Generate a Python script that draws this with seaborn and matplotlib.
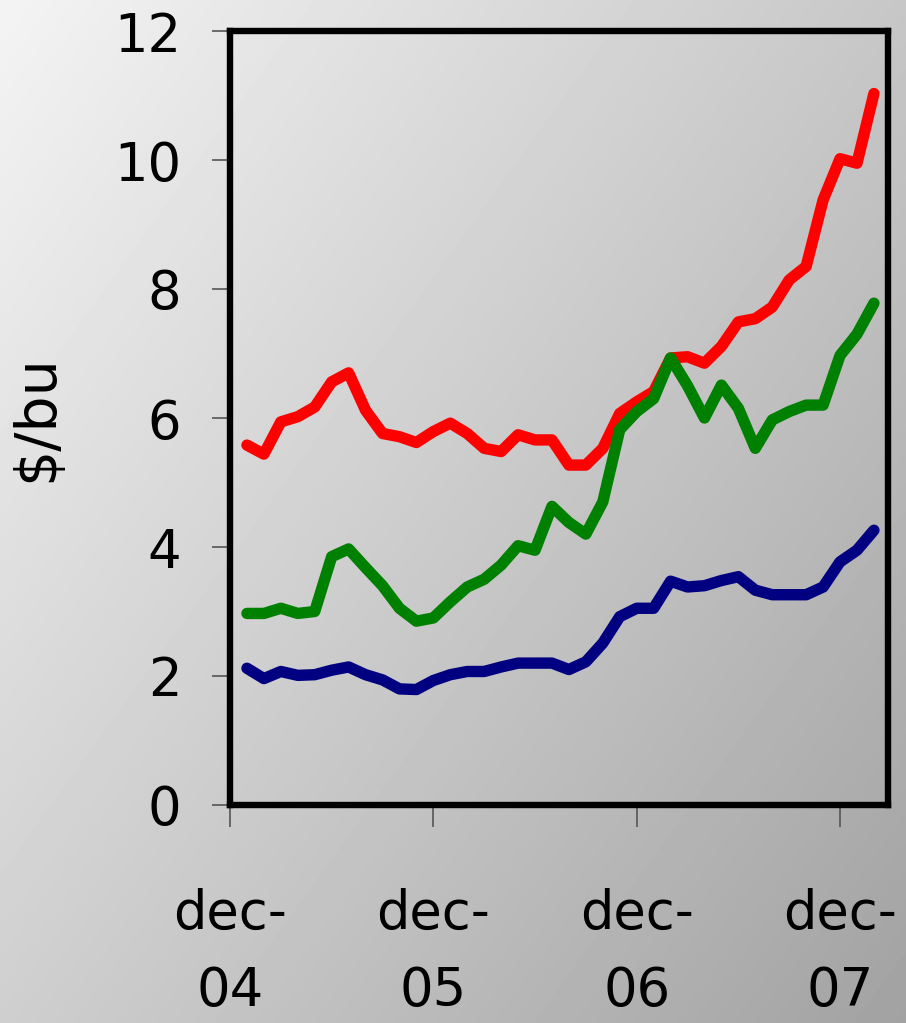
import numpy as np
import pandas as pd
import matplotlib
matplotlib.use("Agg")
import matplotlib.pyplot as plt
import seaborn as sns

# months after dec-04 (1 = jan-05 ... 38 = feb-08)
months = list(range(1, 39))
wheat = [5.58, 5.44, 5.94, 6.02, 6.17, 6.56, 6.70, 6.12, 5.76, 5.71, 5.62, 5.79,
         5.92, 5.76, 5.53, 5.48, 5.74, 5.66, 5.66, 5.27, 5.27, 5.53, 6.07, 6.25,
         6.41, 6.93, 6.95, 6.85, 7.11, 7.49, 7.54, 7.72, 8.14, 8.35, 9.38, 10.02, 9.95, 11.03]
soy = [2.97, 2.97, 3.05, 2.97, 3.00, 3.85, 3.97, 3.68, 3.40, 3.05, 2.85, 2.90,
       3.15, 3.38, 3.50, 3.72, 4.02, 3.95, 4.63, 4.38, 4.20, 4.70, 5.82, 6.10,
       6.30, 6.93, 6.50, 6.00, 6.51, 6.15, 5.53, 5.97, 6.10, 6.20, 6.20, 6.97, 7.30, 7.78]
corn = [2.12, 1.96, 2.07, 2.01, 2.02, 2.09, 2.14, 2.02, 1.94, 1.80, 1.79, 1.93,
        2.02, 2.07, 2.07, 2.14, 2.20, 2.20, 2.20, 2.10, 2.22, 2.51, 2.92, 3.05,
        3.05, 3.47, 3.38, 3.40, 3.48, 3.54, 3.33, 3.26, 3.26, 3.26, 3.38, 3.77, 3.95, 4.26]
series_names = ["red", "green", "blue"]
series_colors = ["#ff0000", "#008000", "#000080"]
x_tick_pos = [0, 12, 24, 36]
x_tick_labels = ["dec-\n04", "dec-\n05", "dec-\n06", "dec-\n07"]
y_ticks = [0, 2, 4, 6, 8, 10, 12]

df = pd.concat([
    pd.DataFrame({"month": months, "price": wheat, "series": "red"}),
    pd.DataFrame({"month": months, "price": soy, "series": "green"}),
    pd.DataFrame({"month": months, "price": corn, "series": "blue"}),
])

sns.set_theme(style="white")
plt.rcParams["font.family"] = ["DejaVu Sans"]

W, H = 906, 1023
fig = plt.figure(figsize=(W / 100, H / 100), dpi=100)

# gradient background
bg = fig.add_axes([0, 0, 1, 1], zorder=-5)
yy, xx = np.mgrid[0:1:200j, 0:1:200j]
t = (xx * 0.55 + yy * 0.45)
grad = 0.955 - 0.32 * t
bg.imshow(grad, cmap="gray", vmin=0, vmax=1, extent=[0, 1, 0, 1],
          origin="upper", aspect="auto", interpolation="bicubic")
bg.set_axis_off()

ax = fig.add_axes([230 / W, 1 - 805 / H, (888 - 230) / W, (805 - 31) / H])
ax.patch.set_alpha(0)

sns.lineplot(data=df, x="month", y="price", hue="series", hue_order=series_names,
             palette=dict(zip(series_names, series_colors)), linewidth=8.2,
             ax=ax, legend=False, solid_capstyle="round", solid_joinstyle="round")

ax.set_xlim(0, 38.83)
ax.set_ylim(0, 12)
ax.set_yticks(y_ticks)
ax.set_yticklabels([str(v) for v in y_ticks])
ax.set_xticks(x_tick_pos)
ax.set_xticklabels(x_tick_labels, linespacing=1.6)
for s in ax.spines.values():
    s.set_visible(True)
    s.set_color("black")
    s.set_linewidth(4.6)
ax.tick_params(axis="y", left=True, length=13, width=1.2, color="#555555",
               pad=22, labelsize=38, labelcolor="black")
ax.tick_params(axis="x", bottom=True, length=16, width=1.2, color="#555555",
               pad=44, labelsize=38, labelcolor="black")
ax.set_xlabel("")
ax.set_ylabel("$/bu", fontsize=41, color="black", labelpad=36)
ax.grid(False)

fig.savefig("out.png", dpi=100)
